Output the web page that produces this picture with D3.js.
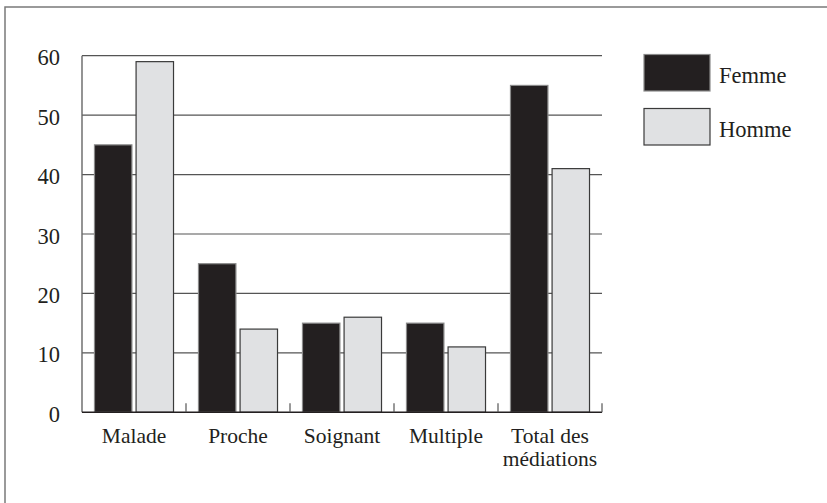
<!DOCTYPE html>
<html>
<head>
<meta charset="utf-8">
<script src="https://cdn.jsdelivr.net/npm/d3@7"></script>
<style>
  body { margin: 0; background: #fff; }
</style>
</head>
<body>
<svg id="chart"></svg>
<script>
  let categories = [["Malade"], ["Proche"], ["Soignant"], ["Multiple"], ["Total des", "médiations"]]
  let series = ["Femme", "Homme"]
  let femme = [45, 25, 15, 15, 55]
  let homme = [59, 14, 16, 11, 41]
  let yTicks = [0, 10, 20, 30, 40, 50, 60]

  let colors = {Femme: "#231f20", Homme: "#e0e1e3"}
  let strokes = {Femme: "#8a8a8a", Homme: "#3a3a3a"}

  let
    width = 827,
    height = 503,
    plotLeft = 82,
    plotRight = 602,
    plotTop = 55.7,
    plotBottom = 412.3,
    fontSize = 22.5,
    labelSize = 21.5

  let svg = d3.select("#chart")
    .attr("width", width)
    .attr("height", height)
    .attr("font-family", "'Liberation Serif', 'DejaVu Serif', serif")
    .style("display", "block")

  // outer frame, runs off the right and bottom edges
  svg.append("rect")
    .attr("x", 5).attr("y", 7)
    .attr("width", width + 20).attr("height", height + 20)
    .attr("fill", "none")
    .attr("stroke", "#7a7a7a")
    .attr("stroke-width", 1.5)

  let x = d3.scaleBand()
    .domain(d3.range(categories.length))
    .range([plotLeft, plotRight])

  let xInner = d3.scaleBand()
    .domain(series)
    .range([0, x.bandwidth()])
    .paddingInner(0.1)
    .paddingOuter(0.3)

  let y = d3.scaleLinear()
    .domain([0, 60])
    .range([plotBottom, plotTop])

  // gridlines
  svg.append("g")
    .selectAll("line")
    .data(yTicks.filter(d => d > 0))
    .enter().append("line")
    .attr("x1", plotLeft).attr("x2", plotRight)
    .attr("y1", d => y(d)).attr("y2", d => y(d))
    .attr("stroke", "#555")
    .attr("stroke-width", 1.2)

  // y labels
  svg.append("g")
    .selectAll("text")
    .data(yTicks)
    .enter().append("text")
    .attr("x", 60)
    .attr("y", d => y(d) + 9.5)
    .attr("text-anchor", "end")
    .attr("font-size", fontSize)
    .attr("fill", "#231f20")
    .text(d => d)

  // bars
  let rows = categories.map((c, i) => ({i: i, values: [{s: "Femme", v: femme[i]}, {s: "Homme", v: homme[i]}]}))

  let groups = svg.append("g")
    .selectAll("g")
    .data(rows)
    .enter().append("g")
    .attr("transform", d => `translate(${x(d.i)},0)`)

  groups.selectAll("rect")
    .data(d => d.values)
    .enter().append("rect")
    .attr("x", d => xInner(d.s))
    .attr("width", xInner.bandwidth())
    .attr("y", d => y(d.v))
    .attr("height", d => y(0) - y(d.v))
    .attr("fill", d => colors[d.s])
    .attr("stroke", d => strokes[d.s])
    .attr("stroke-width", 1.2)

  // axes lines
  svg.append("line")
    .attr("x1", plotLeft).attr("x2", plotLeft)
    .attr("y1", plotTop).attr("y2", plotBottom)
    .attr("stroke", "#666").attr("stroke-width", 1.4)

  svg.append("line")
    .attr("x1", plotLeft).attr("x2", plotRight)
    .attr("y1", plotBottom).attr("y2", plotBottom)
    .attr("stroke", "#231f20").attr("stroke-width", 1.4)

  // category separators
  svg.append("g")
    .selectAll("line")
    .data(d3.range(1, categories.length + 1))
    .enter().append("line")
    .attr("x1", d => plotLeft + d * x.bandwidth())
    .attr("x2", d => plotLeft + d * x.bandwidth())
    .attr("y1", plotBottom).attr("y2", plotBottom - 9)
    .attr("stroke", "#555").attr("stroke-width", 1.2)

  // x labels, one text per line
  let lines = []
  categories.forEach((c, i) => c.forEach((t, k) => lines.push({t: t, k: k, i: i})))

  svg.append("g")
    .selectAll("text")
    .data(lines)
    .enter().append("text")
    .attr("x", d => x(d.i) + x.bandwidth() / 2)
    .attr("y", d => 443 + d.k * 23)
    .attr("text-anchor", "middle")
    .attr("font-size", labelSize)
    .attr("fill", "#231f20")
    .text(d => d.t)

  // legend
  let legend = svg.append("g")
    .selectAll("g")
    .data(series)
    .enter().append("g")
    .attr("transform", (d, i) => `translate(644,${54.5 + i * 54})`)

  legend.append("rect")
    .attr("width", 66).attr("height", 36.5)
    .attr("fill", d => colors[d])
    .attr("stroke", d => strokes[d])
    .attr("stroke-width", 1.2)

  legend.append("text")
    .attr("x", 75).attr("y", 28.5)
    .attr("font-size", fontSize)
    .attr("fill", "#231f20")
    .text(d => d)
</script>
</body>
</html>
